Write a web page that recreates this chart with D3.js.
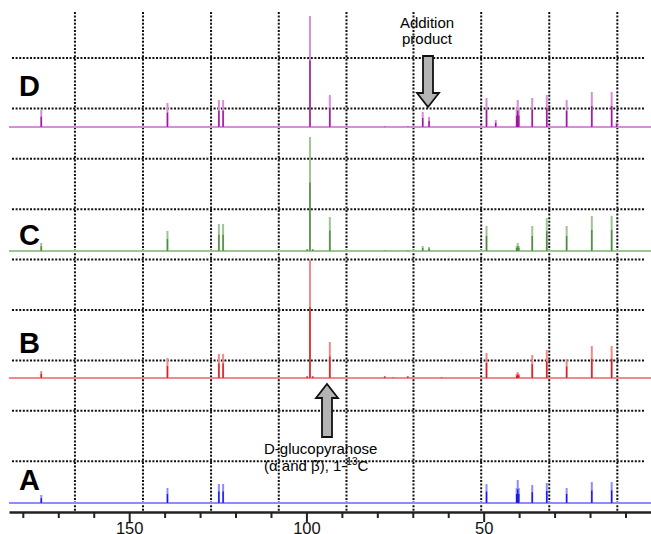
<!DOCTYPE html>
<html>
<head>
	<title>13C NMR stack</title>
	<meta charset="utf-8">
	<script src="https://cdnjs.cloudflare.com/ajax/libs/d3/7.8.5/d3.min.js" charset="utf-8"></script>
	<style>
		body { margin: 0; background: #fff; }
		svg text { font-family: Arial, "Liberation Sans", sans-serif; }
	</style>
</head>
<body>
<div id="chart"></div>
<script>
// chemical shifts (ppm) and peak heights
var labels = ["D", "C", "B", "A"];

var peaksA = [[174.8, 8], [139.2, 15], [124.7, 19], [123.5, 19], [49.2, 19],
	[40.7, 15], [40.4, 23], [40.1, 15], [36.3, 18], [32.2, 20], [26.6, 15], [19.5, 21], [13.9, 21]];

var peaksB = [[174.8, 7], [139.2, 20], [124.7, 24], [123.5, 24], [99.8, 2], [99.0, 118], [98.2, 2],
	[93.4, 36], [77.9, 2], [75.6, 1], [71.4, 2], [61.9, 1], [49.2, 25],
	[40.7, 4], [40.4, 6], [40.1, 4], [36.3, 23], [32.2, 28], [26.6, 19], [19.5, 32], [13.9, 32]];

var peaksC = [[174.8, 8], [139.2, 20], [124.7, 27], [123.5, 27], [99.8, 2], [99.0, 114], [98.2, 2],
	[93.4, 34], [77.9, 1], [71.4, 1], [67.2, 5], [65.4, 4], [49.2, 25],
	[40.7, 5], [40.4, 8], [40.1, 5], [36.3, 25], [32.2, 33], [26.6, 25], [19.5, 35], [13.9, 35]];

var peaksD = [[174.8, 17], [139.2, 24], [124.7, 27], [123.5, 27], [99.0, 111], [93.4, 32],
	[77.9, 1], [71.4, 1], [67.2, 15], [65.4, 10], [49.2, 29], [46.6, 7],
	[40.7, 19], [40.4, 27], [40.1, 19], [36.3, 29], [32.2, 32], [26.6, 27], [19.5, 35], [13.9, 35], [12.5, 5]];

var majorTicks = [150, 100, 50];
var minorTicks = [180, 170, 160, 140, 130, 120, 110, 90, 80, 70, 60, 40, 30, 20, 10];
var gridPpm = [165.3, 146.1, 126.9, 107.8, 88.7, 69.8, 50.7, 31.5, 12.3];

var width = 651,
	height = 534;

var svg = d3.select("#chart").append("svg")
	.attr("width", width)
	.attr("height", height);

var x = d3.scaleLinear().domain([183.9, 2.8]).range([9, 651]);
var h = d3.scaleLinear().domain([0, 100]).range([0, 100]);

var axisY = 512;

// spectra: baseline y, light colour, dark colour
var tracks = [
	{ name: "D", peaks: peaksD, base: 127, light: "#d58fd5", dark: "#9a1a9a", labelY: 96 },
	{ name: "C", peaks: peaksC, base: 251, light: "#9cc494", dark: "#4e8a44", labelY: 245 },
	{ name: "B", peaks: peaksB, base: 378, light: "#f08a8a", dark: "#d82020", labelY: 353 },
	{ name: "A", peaks: peaksA, base: 503, light: "#8c8cff", dark: "#1a1ae0", labelY: 490 }
];

// dotted grid
var grid = svg.append("g");
for (var i = 0; i < 9; i++) {
	grid.append("line")
		.attr("x1", 12).attr("x2", 645)
		.attr("y1", 58 + i * 50.4).attr("y2", 58 + i * 50.4)
		.attr("stroke", "#111").attr("stroke-width", 2).attr("stroke-dasharray", "2 1.6");
}
grid.selectAll(".vg").data(gridPpm).enter().append("line")
	.attr("x1", function(d) { return x(d); }).attr("x2", function(d) { return x(d); })
	.attr("y1", 12).attr("y2", axisY)
	.attr("stroke", "#111").attr("stroke-width", 2).attr("stroke-dasharray", "2 1.6");

// spectra
tracks.forEach(function(t) {
	var g = svg.append("g");
	g.append("line")
		.attr("x1", 9).attr("x2", 651)
		.attr("y1", t.base).attr("y2", t.base)
		.attr("stroke", t.light).attr("stroke-width", 2);
	g.selectAll(".pl").data(t.peaks).enter().append("line")
		.attr("x1", function(d) { return x(d[0]); }).attr("x2", function(d) { return x(d[0]); })
		.attr("y1", t.base).attr("y2", function(d) { return t.base - h(d[1]); })
		.attr("stroke", t.light).attr("stroke-width", 2);
	g.selectAll(".pd").data(t.peaks).enter().append("line")
		.attr("x1", function(d) { return x(d[0]); }).attr("x2", function(d) { return x(d[0]); })
		.attr("y1", t.base).attr("y2", function(d) { return t.base - h(d[1]) * 0.6; })
		.attr("stroke", t.dark).attr("stroke-width", 1.4);
	svg.append("text")
		.attr("x", 19).attr("y", t.labelY)
		.attr("font-size", 29).attr("font-weight", "bold")
		.text(t.name);
});

// x axis
svg.append("g")
	.attr("transform", "translate(0," + axisY + ")")
	.call(d3.axisBottom(x).tickValues(minorTicks).tickSize(6).tickFormat(""))
	.call(function(g) { g.select(".domain").remove(); })
	.selectAll("line").attr("stroke", "#222").attr("stroke-width", 2);

var ax = svg.append("g")
	.attr("transform", "translate(0," + axisY + ")")
	.call(d3.axisBottom(x).tickValues(majorTicks).tickSize(10).tickSizeOuter(0).tickPadding(0));
ax.select(".domain").attr("stroke", "#222").attr("stroke-width", 2.5);
ax.selectAll("line").attr("stroke", "#222").attr("stroke-width", 2);
ax.selectAll("text").attr("font-size", 16.5).attr("fill", "#111")
	.attr("font-family", "Arial, 'Liberation Sans', sans-serif");

// arrows
function arrow(cx, tipY, endY, dir) {
	var hw = 11, sw = 5, headL = 14;
	var b = tipY + dir * headL;
	var pts = [[cx, tipY], [cx + hw, b], [cx + sw, b], [cx + sw, endY], [cx - sw, endY], [cx - sw, b], [cx - hw, b]];
	svg.append("path")
		.attr("d", d3.line()(pts) + "Z")
		.attr("fill", "#b4b4b4").attr("stroke", "#111").attr("stroke-width", 1.8);
}
arrow(428, 107, 56, -1);
arrow(327, 384, 437, 1);

svg.append("text").attr("x", 427).attr("y", 28).attr("text-anchor", "middle")
	.attr("font-size", 15).text("Addition");
svg.append("text").attr("x", 427).attr("y", 44).attr("text-anchor", "middle")
	.attr("font-size", 15).text("product");

svg.append("text").attr("x", 264).attr("y", 454)
	.attr("font-size", 15).text("D-glucopyranose");
var t2 = svg.append("text").attr("x", 264).attr("y", 471).attr("font-size", 15);
t2.append("tspan").text("(\u03b1 and \u03b2), 1-");
t2.append("tspan").attr("font-size", 10).attr("dy", -6).text("13");
t2.append("tspan").attr("dy", 6).text("C");
</script>
</body>
</html>
